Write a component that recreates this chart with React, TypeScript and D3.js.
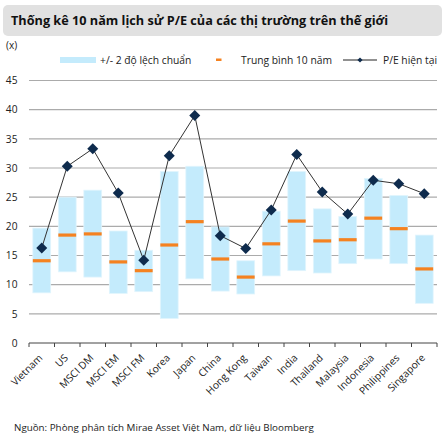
import React from "react";
import * as d3 from "d3";

const categories = ["Vietnam","US","MSCI DM","MSCI EM","MSCI FM","Korea","Japan","China","Hong Kong","Taiwan","India","Thailand","Malaysia","Indonesia","Philippines","Singapore"];
const upper = [19.7,25.0,26.2,19.2,15.9,29.4,30.3,19.9,14.1,22.6,29.4,23.0,21.7,28.2,25.3,18.5];
const lower = [8.6,12.2,11.3,8.5,8.8,4.2,11.0,8.9,8.4,11.5,12.4,12.0,13.6,14.4,13.6,6.8];
const mean10 = [14.1,18.5,18.7,13.9,12.4,16.8,20.8,14.4,11.3,17.0,20.9,17.5,17.7,21.4,19.6,12.7];
const peNow = [16.3,30.3,33.3,25.7,14.2,32.1,39.0,18.4,16.2,22.8,32.3,25.9,22.1,27.9,27.3,25.6];
const yTicks = [0,5,10,15,20,25,30,35,40,45];

const FONT = "'Open Sans', 'Noto Sans', sans-serif";
const BAR = "#c4ebfc";
const ORANGE = "#f58220";
const NAVY = "#0e2b4d";

export default function App() {
  const x = d3.scaleBand<string>().domain(categories).range([29, 437]).paddingInner(0.3).paddingOuter(0.15);
  const y = d3.scaleLinear().domain([0, 45]).range([343, 80.5]);
  const bw = x.bandwidth();
  const cx = (c: string) => (x(c) as number) + bw / 2;
  const line = d3.line<number>().x((_, i) => cx(categories[i])).y((d) => y(d));
  const diamond = (s: number) => `M0,${-s}L${s},0L0,${s}L${-s},0Z`;
  const step = x.step();
  const boundaries = d3.range(categories.length + 1).map((i) => 29 + i * step);

  return (
    <svg width={444} height={439} style={{ position: "absolute", left: 0, top: 0, background: "#fff" }} fontFamily={FONT}>
      <rect x={3} y={5} width={439} height={31} rx={5} fill="#e1e1e1" />
      <text x={11} y={25} fontSize={12.7} fontWeight={700} fill="#111">Thống kê 10 năm lịch sử P/E của các thị trường trên thế giới</text>
      <text x={6} y={49} fontSize={10} fill="#222">(x)</text>
      {/* legend */}
      <rect x={60} y={57} width={36} height={6} fill={BAR} />
      <text x={100} y={63.5} fontSize={10.3} fill="#222">+/- 2 độ lệch chuẩn</text>
      <rect x={216} y={58.5} width={5.5} height={2.5} fill={ORANGE} />
      <text x={241} y={63.5} fontSize={10.3} fill="#222">Trung bình 10 năm</text>
      <line x1={343} x2={377} y1={60} y2={60} stroke="#222" strokeWidth={1} />
      <path d={diamond(2.6)} transform="translate(360,60)" fill={NAVY} />
      <text x={383} y={63.5} fontSize={10.3} fill="#222">P/E hiện tại</text>
      {/* grid */}
      {yTicks.filter((t) => t > 0).map((t) => (
        <line key={t} x1={29} x2={437} y1={y(t)} y2={y(t)} stroke="#ababab" strokeWidth={1.2} />
      ))}
      {yTicks.map((t) => (
        <text key={"l" + t} x={17.5} y={y(t) + 3.7} fontSize={10.2} textAnchor="end" fill="#222">{t}</text>
      ))}
      {/* bars */}
      {categories.map((c, i) => (
        <rect key={c} x={x(c)} y={y(upper[i])} width={bw} height={y(lower[i]) - y(upper[i])} fill={BAR} stroke="#e2f5fd" strokeWidth={0.8} />
      ))}
      {categories.map((c, i) => (
        <rect key={"m" + c} x={x(c)} y={y(mean10[i]) - 1.6} width={bw} height={3.2} fill={ORANGE} />
      ))}
      {/* axis */}
      <line x1={29} x2={437} y1={y(0)} y2={y(0)} stroke="#444" strokeWidth={1} />
      {boundaries.map((b, i) => (
        <line key={"t" + i} x1={b} x2={b} y1={y(0)} y2={y(0) + 4} stroke="#444" strokeWidth={1} />
      ))}
      {categories.map((c) => (
        <text key={"x" + c} transform={`translate(${cx(c) + 1.5},${y(0) + 15.5}) rotate(-45)`} textAnchor="end" fontSize={10.2} fill="#222">{c}</text>
      ))}
      {/* line */}
      <path d={line(peNow) || ""} fill="none" stroke="#333" strokeWidth={1} />
      {categories.map((c, i) => (
        <path key={"d" + c} d={diamond(5.5)} transform={`translate(${cx(c)},${y(peNow[i])})`} fill={NAVY} />
      ))}
      <text x={14} y={431} fontSize={9.8} fill="#222">Nguồn: Phòng phân tích Mirae Asset Việt Nam, dữ liệu Bloomberg</text>
    </svg>
  );
}
